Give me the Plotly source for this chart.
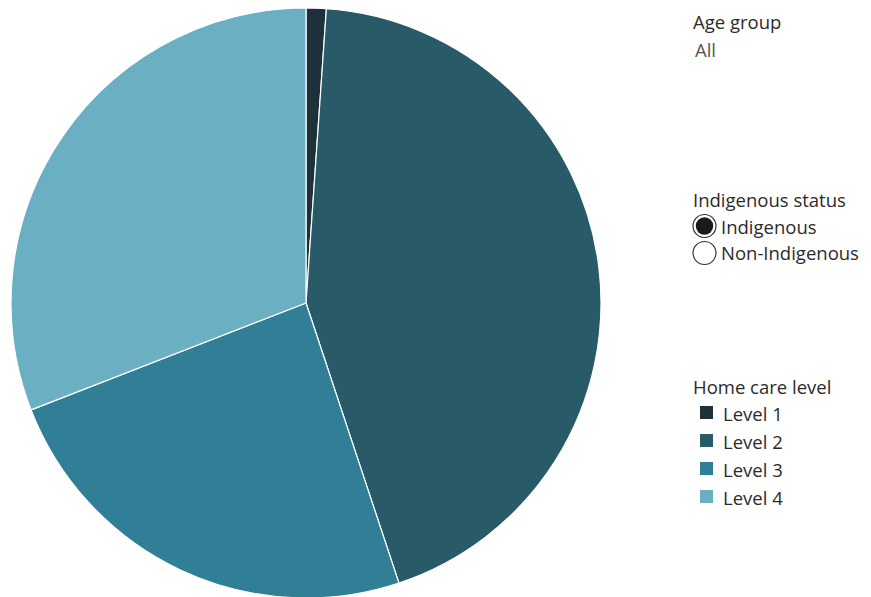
import plotly.graph_objects as go

levels = ["Level 1", "Level 2", "Level 3", "Level 4"]
shares = [1.1, 43.8, 24.2, 30.9]
colors = ["#1c3139", "#285a68", "#317f97", "#6bafc3"]

age_title = "Age group"
age_value = "All"
status_title = "Indigenous status"
status_options = ["Indigenous", "Non-Indigenous"]
level_title = "Home care level"

W, H = 871, 597
OFF = 8  # page body margin
fig = go.Figure()
fig.add_trace(go.Pie(
    labels=levels, values=shares, sort=False, direction="clockwise", rotation=0,
    marker=dict(colors=colors, line=dict(color="white", width=1.2)),
    textinfo="none", hoverinfo="label+percent", showlegend=False,
    domain=dict(x=[3 / W, 593 / W], y=[7 / H, 1]),
))

font = "Open Sans"
ann = []
def px(x):
    return (x - OFF) / W
def py(y):
    return 1 - (y - OFF) / H
def txt(x, y, s, size=18.5, color="#2b2b2b"):
    ann.append(dict(x=px(x), y=py(y), xref="paper", yref="paper", text=s, showarrow=False,
                    xanchor="left", yanchor="middle", xshift=-2,
                    font=dict(family=font, size=size, color=color)))

txt(693, 22, age_title)
txt(695, 50, age_value, color="#555555")
txt(693, 199, status_title)
shapes = []
for i, opt in enumerate(status_options):
    cy = 226 + i * 27
    txt(721, cy, opt)
    shapes.append(dict(type="circle", xref="paper", yref="paper",
                       x0=px(693), x1=px(716), y0=py(cy + 11.5), y1=py(cy - 11.5),
                       line=dict(color="#333333", width=1.2), fillcolor="white"))
    if i == 0:
        shapes.append(dict(type="circle", xref="paper", yref="paper",
                           x0=px(695.8), x1=px(713.2), y0=py(cy + 8.7), y1=py(cy - 8.7),
                           line=dict(color="#1a1a1a", width=0), fillcolor="#1a1a1a"))
txt(693, 386, level_title)
for i, (lv, c) in enumerate(zip(levels, colors)):
    cy = 413 + i * 28
    txt(723, cy, lv)
    shapes.append(dict(type="rect", xref="paper", yref="paper",
                       x0=px(700), x1=px(713), y0=py(cy + 6), y1=py(cy - 7),
                       line=dict(width=0), fillcolor=c))

fig.update_layout(width=W, height=H, margin=dict(l=0, r=0, t=0, b=0),
                  paper_bgcolor="white", plot_bgcolor="white",
                  annotations=ann, shapes=shapes)
fig.write_html("out.html")
